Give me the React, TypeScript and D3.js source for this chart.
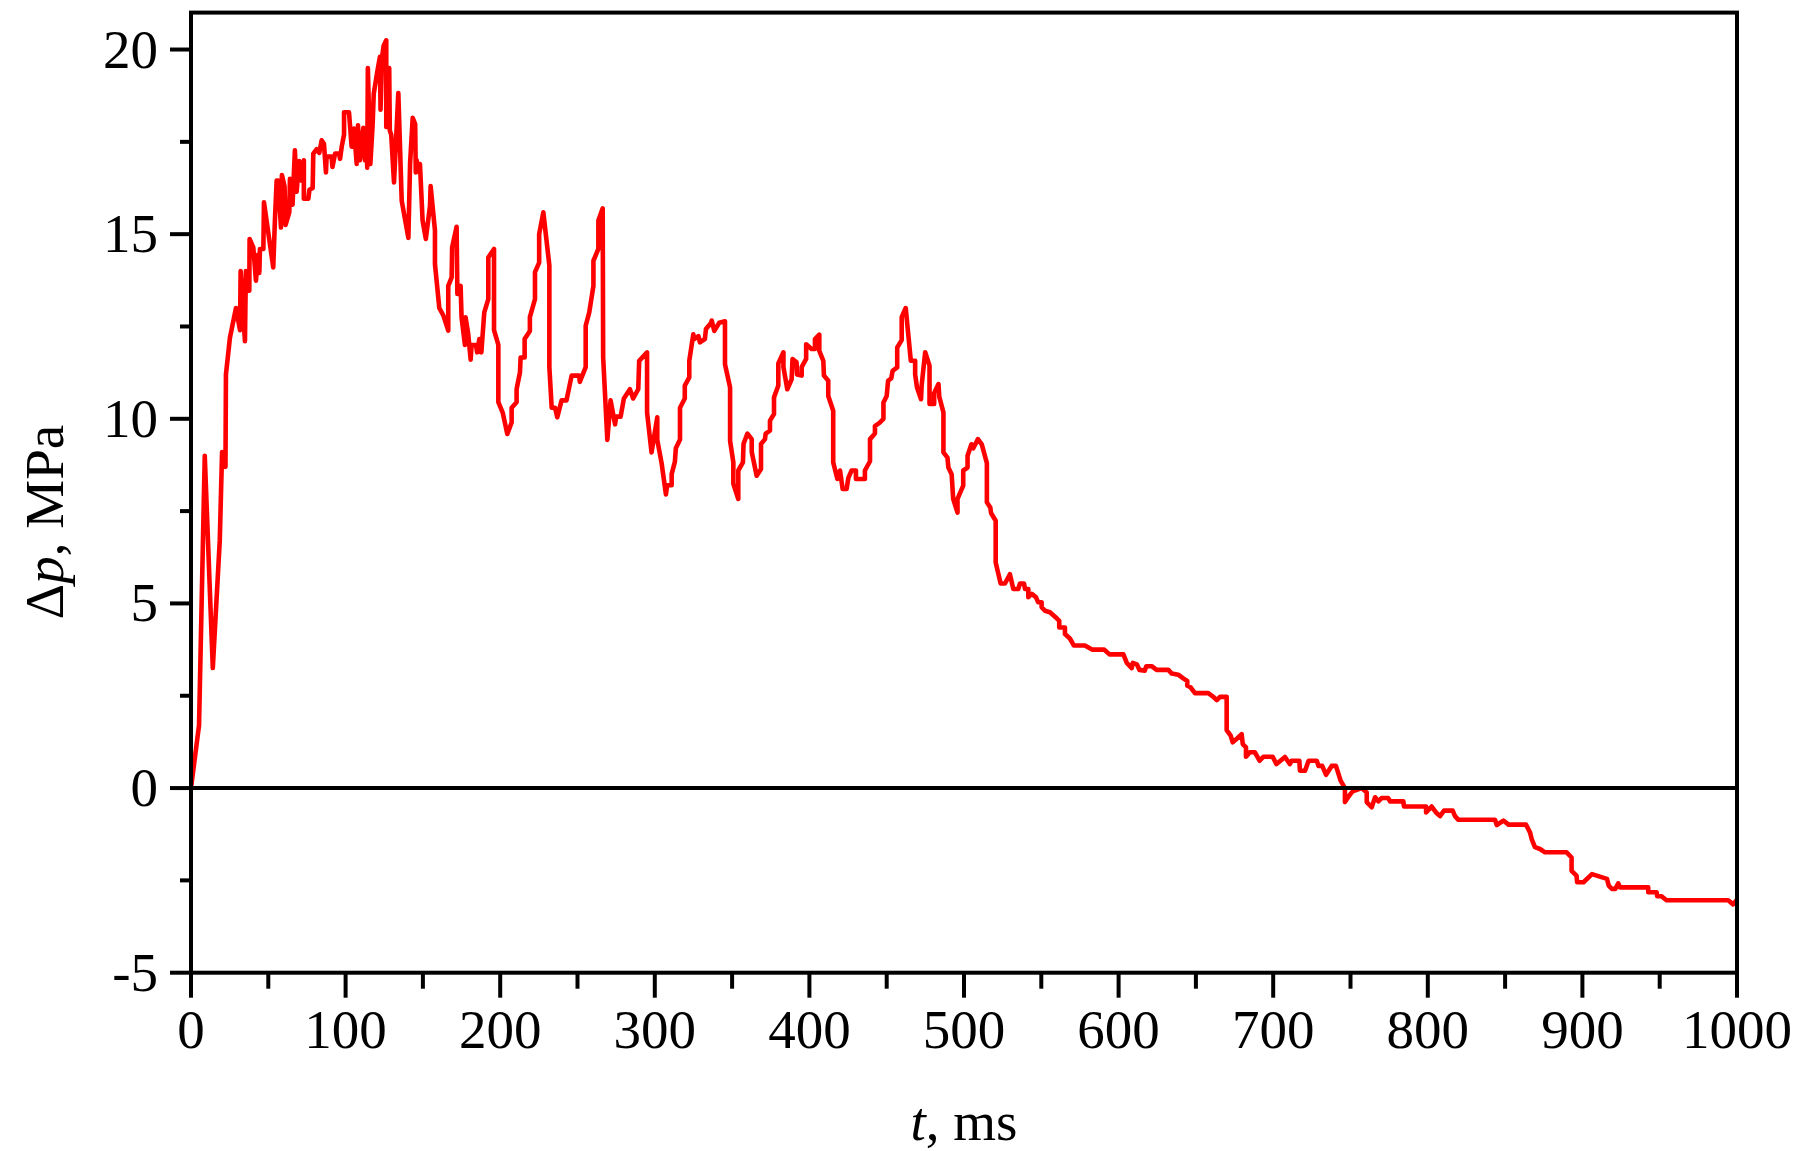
import React from "react";
import * as d3 from "d3";

const timeMs: number[] = [
  0, 5.2, 8.9, 14.1, 18.6, 20.1, 22.3, 22.6, 25.2, 29.1, 31.7, 32.1, 34.9, 35.5, 37.7, 37.9, 40.3, 42.0, 43.5, 44.2,
  44.6, 46.8, 47.2, 53.2, 54.3, 55.4, 56.4, 58.2, 58.8, 60.5, 61.2, 63.6, 64.0, 65.7, 67.2, 68.3, 70.0, 71.5, 73.0, 73.0,
  75.9, 76.6, 78.7, 79.1, 81.3, 83.0, 84.5, 86.0, 87.3, 87.7, 90.9, 91.5, 93.2, 95.8, 96.4, 97.5, 99.0, 99.0, 102.2, 103.9,
  105.4, 107.2, 108.0, 109.3, 111.5, 112.6, 113.2, 114.0, 114.4, 116.0, 117.5, 118.2, 120.5, 122.2, 122.6, 123.6, 124.6, 126.3, 126.3, 127.2,
  128.2, 128.6, 129.5, 131.3, 134.1, 136.3, 140.6, 141.7, 143.4, 145.0, 145.4, 146.0, 147.0, 148.1, 149.8, 151.9, 154.6, 155.0, 157.8, 157.8,
  160.6, 163.2, 166.4, 166.4, 168.6, 168.9, 171.8, 172.3, 174.0, 174.4, 175.0, 177.2, 177.6, 179.3, 180.9, 181.5, 184.3, 185.1, 186.5, 187.8,
  189.7, 192.3, 192.3, 196.0, 196.0, 198.8, 198.8, 201.6, 204.6, 207.4, 207.4, 210.6, 210.6, 212.8, 213.2, 215.8, 215.8, 219.2, 219.2, 222.5,
  222.5, 225.2, 225.2, 227.9, 231.8, 231.8, 233.3, 235.5, 236.9, 239.7, 242.9, 246.2, 251.1, 251.5, 255.3, 255.3, 257.6, 260.3, 260.3, 263.5,
  263.5, 266.3, 266.6, 269.3, 271.4, 274.3, 275.0, 277.9, 280.0, 283.9, 286.0, 289.3, 289.9, 295.0, 295.0, 297.9, 301.6, 301.6, 304.4, 307.2,
  308.0, 310.9, 310.9, 313.0, 313.6, 316.3, 316.3, 319.4, 319.4, 322.3, 322.3, 324.9, 325.5, 328.2, 329.2, 332.4, 333.1, 336.5, 336.8, 338.5,
  341.7, 345.4, 345.4, 348.7, 348.7, 350.8, 350.8, 354.0, 354.0, 357.0, 357.4, 359.9, 362.7, 362.7, 365.9, 368.7, 368.7, 371.3, 371.7, 374.5,
  374.5, 377.1, 377.1, 379.9, 379.9, 383.2, 383.2, 385.7, 388.5, 389.1, 391.7, 392.0, 395.0, 395.0, 397.9, 397.9, 401.4, 403.6, 403.6, 406.4,
  406.4, 409.0, 409.4, 412.2, 412.2, 415.4, 415.4, 418.1, 419.8, 421.5, 424.1, 425.2, 427.3, 430.1, 430.1, 435.9, 435.9, 439.2, 439.2, 442.4,
  442.4, 445.6, 447.9, 447.9, 450.0, 450.9, 453.0, 453.8, 456.8, 456.8, 459.7, 459.7, 462.3, 465.6, 468.4, 468.4, 469.6, 472.2, 472.6, 474.9,
  477.7, 477.7, 480.7, 480.7, 483.5, 484.0, 486.7, 486.7, 489.3, 489.9, 492.0, 493.0, 495.8, 495.8, 499.5, 499.5, 502.3, 502.3, 504.8, 506.0,
  509.0, 511.5, 514.8, 514.8, 517.0, 517.5, 520.5, 520.5, 523.7, 526.5, 529.7, 531.9, 535.1, 536.2, 538.8, 539.5, 541.6, 541.6, 543.8, 546.5,
  548.0, 550.2, 550.2, 552.4, 555.6, 559.4, 561.6, 561.6, 565.3, 565.3, 568.5, 571.1, 578.2, 582.8, 590.6, 594.1, 603.1, 605.3, 608.5, 609.2,
  611.8, 613.5, 616.9, 617.9, 621.4, 624.6, 632.2, 634.4, 638.6, 641.8, 644.4, 644.4, 646.5, 649.4, 658.0, 661.3, 663.5, 665.6, 669.9, 669.9,
  672.5, 673.8, 676.8, 679.6, 680.3, 682.4, 682.4, 684.9, 688.1, 691.2, 693.8, 699.6, 702.1, 707.6, 710.8, 711.9, 716.9, 717.3, 720.6, 722.9,
  728.2, 729.3, 731.7, 734.2, 737.8, 740.6, 743.6, 746.4, 746.4, 749.2, 751.4, 757.2, 760.5, 760.5, 763.7, 765.9, 768.0, 770.1, 774.4, 775.6,
  784.2, 784.6, 798.9, 798.9, 802.5, 805.3, 807.9, 810.5, 816.1, 817.6, 819.8, 843.5, 844.6, 848.9, 852.2, 863.5, 866.1, 867.2, 869.3, 872.6,
  875.8, 889.8, 893.0, 893.0, 896.2, 896.6, 900.7, 906.2, 915.9, 917.0, 919.1, 921.3, 923.2, 924.3, 942.6, 942.6, 948.0, 948.4, 951.2, 954.4,
  994.3, 997.5, 999.7,
];

const deltaP: number[] = [
  0, 1.7, 9.0, 3.25, 6.7, 9.1, 8.7, 11.2, 12.2, 13.0, 12.4, 14.0, 12.1, 14.0, 13.47, 14.87, 14.64, 13.74, 14.45, 13.95,
  14.6, 14.6, 15.86, 14.1, 15.4, 16.45, 16.45, 15.18, 16.6, 16.3, 15.25, 15.6, 16.5, 15.8, 17.27, 16.15, 16.98, 16.45, 17.0, 15.96,
  15.96, 16.2, 16.25, 17.18, 17.3, 17.2, 17.54, 17.45, 16.67, 17.1, 17.1, 16.82, 17.18, 17.18, 17.04, 17.37, 17.7, 18.3, 18.3, 17.37,
  17.86, 16.9, 17.95, 17.0, 17.88, 17.0, 17.86, 16.8, 19.5, 16.9, 17.98, 18.8, 19.4, 19.8, 18.37, 19.8, 20.1, 20.25, 17.9, 19.5,
  19.5, 17.8, 17.7, 16.4, 18.82, 15.9, 14.9, 16.9, 18.15, 17.98, 16.67, 17.0, 16.7, 16.9, 15.37, 14.87, 15.77, 16.3, 15.1, 14.19,
  13.0, 12.8, 12.39, 13.6, 13.83, 14.64, 15.2, 13.38, 13.38, 13.6, 12.75, 12.0, 12.75, 12.3, 11.6, 12.0, 12.0, 11.8, 12.16, 11.8,
  12.88, 13.24, 14.37, 14.6, 12.4, 12.0, 10.45, 10.17, 9.59, 9.9, 10.3, 10.45, 10.8, 11.26, 11.66, 11.66, 12.16, 12.38, 12.75, 13.24,
  13.97, 14.23, 15.0, 15.59, 14.15, 11.4, 10.3, 10.3, 10.04, 10.5, 10.5, 11.17, 11.17, 11.0, 11.4, 12.52, 12.88, 13.6, 14.28, 14.6,
  15.37, 15.7, 11.66, 9.43, 10.5, 9.85, 10.06, 10.06, 10.55, 10.8, 10.55, 10.8, 11.57, 11.8, 10.17, 9.09, 10.04, 9.43, 8.8, 7.95,
  8.2, 8.2, 8.5, 8.84, 9.2, 9.44, 10.3, 10.55, 10.9, 11.12, 11.57, 12.29, 12.16, 12.24, 12.07, 12.16, 12.43, 12.6, 12.66, 12.38,
  12.6, 12.64, 11.48, 10.85, 9.4, 8.82, 8.24, 7.83, 8.6, 8.82, 9.32, 9.6, 9.45, 9.1, 8.46, 8.64, 9.32, 9.45, 9.6, 9.68,
  9.95, 10.13, 10.58, 10.9, 11.5, 11.8, 11.4, 10.8, 11.07, 11.62, 11.53, 11.2, 11.17, 11.4, 11.62, 12.02, 11.89, 11.89, 12.16, 12.28,
  11.84, 11.57, 11.17, 11.03, 10.62, 10.22, 8.82, 8.37, 8.6, 8.1, 8.1, 8.4, 8.6, 8.6, 8.37, 8.37, 8.6, 8.85, 9.45, 9.6,
  9.8, 9.9, 10.0, 10.44, 10.62, 11.03, 11.1, 11.3, 11.39, 11.93, 12.13, 12.75, 13.0, 11.57, 11.57, 11.2, 10.85, 10.53, 10.9, 11.8,
  11.44, 10.4, 10.4, 10.7, 10.94, 10.6, 10.17, 9.09, 8.95, 8.68, 8.5, 7.83, 7.46, 7.83, 8.19, 8.6, 8.68, 9.0, 9.31, 9.2,
  9.45, 9.31, 8.8, 7.74, 7.6, 7.45, 7.24, 6.11, 5.54, 5.54, 5.79, 5.39, 5.39, 5.54, 5.54, 5.39, 5.39, 5.17, 5.26, 5.17,
  5.03, 5.03, 4.9, 4.8, 4.76, 4.62, 4.53, 4.35, 4.35, 4.17, 4.05, 3.86, 3.86, 3.75, 3.75, 3.62, 3.62, 3.39, 3.25, 3.39,
  3.35, 3.2, 3.18, 3.3, 3.3, 3.2, 3.2, 3.1, 3.07, 2.97, 2.9, 2.77, 2.73, 2.57, 2.57, 2.47, 2.38, 2.47, 2.47, 1.57,
  1.42, 1.24, 1.35, 1.46, 1.19, 1.1, 0.85, 0.97, 0.97, 0.74, 0.85, 0.85, 0.65, 0.84, 0.65, 0.74, 0.74, 0.47, 0.47, 0.74,
  0.74, 0.6, 0.6, 0.36, 0.6, 0.6, 0.2, 0.0, -0.38, -0.2, -0.09, 0.0, -0.12, -0.38, -0.52, -0.25, -0.36, -0.27, -0.27, -0.36,
  -0.36, -0.5, -0.5, -0.66, -0.5, -0.66, -0.76, -0.61, -0.61, -0.76, -0.86, -0.86, -1.0, -0.88, -0.99, -0.99, -1.2, -1.38, -1.6, -1.65,
  -1.74, -1.74, -1.88, -2.24, -2.37, -2.55, -2.55, -2.33, -2.46, -2.64, -2.73, -2.73, -2.58, -2.69, -2.69, -2.82, -2.82, -2.93, -2.93, -3.04,
  -3.04, -3.15, -3.04,
];

const xMajorTicks = [0, 100, 200, 300, 400, 500, 600, 700, 800, 900, 1000];
const xMinorTicks = [50, 150, 250, 350, 450, 550, 650, 750, 850, 950];
const yMajorTicks = [-5, 0, 5, 10, 15, 20];
const yMinorTicks = [-2.5, 2.5, 7.5, 12.5, 17.5];

const W = 1805;
const H = 1151;
const FONT = "'Liberation Serif', 'Times New Roman', serif";

export default function App() {
  const left = 191;
  const right = 1737;
  const top = 12.6;
  const bottom = 972.7;

  const x = d3.scaleLinear().domain([0, 1000]).range([left, right]);
  const y = d3.scaleLinear().domain([-5, 21]).range([bottom, top]);

  const pts: [number, number][] = timeMs.map((t, i) => [t, deltaP[i]]);
  const line = d3
    .line<[number, number]>()
    .x((d) => x(d[0]))
    .y((d) => y(d[1]));

  const fs = 55;
  const sw = 4;

  return (
    <svg
      width={W}
      height={H}
      style={{ position: "absolute", left: 0, top: 0, background: "#fff" }}
      fontFamily={FONT}
    >
      <rect x={0} y={0} width={W} height={H} fill="#fff" />
      <path
        d={line(pts) || ""}
        fill="none"
        stroke="#ff0000"
        strokeWidth={4.6}
        strokeLinejoin="round"
        strokeLinecap="round"
      />
      <line x1={x(0)} x2={x(1000)} y1={y(0)} y2={y(0)} stroke="#000" strokeWidth={sw} />
      <rect
        x={left}
        y={top}
        width={right - left}
        height={bottom - top}
        fill="none"
        stroke="#000"
        strokeWidth={sw}
      />
      {xMajorTicks.map((t) => (
        <g key={"xm" + t}>
          <line x1={x(t)} x2={x(t)} y1={bottom} y2={bottom + 25} stroke="#000" strokeWidth={sw} />
          <text x={x(t)} y={1048} fontSize={fs} textAnchor="middle" fill="#000">
            {t}
          </text>
        </g>
      ))}
      {xMinorTicks.map((t) => (
        <line key={"xn" + t} x1={x(t)} x2={x(t)} y1={bottom} y2={bottom + 16} stroke="#000" strokeWidth={sw} />
      ))}
      {yMajorTicks.map((v) => (
        <g key={"ym" + v}>
          <line x1={left - 21} x2={left} y1={y(v)} y2={y(v)} stroke="#000" strokeWidth={sw} />
          <text x={158} y={y(v) + 18} fontSize={fs} textAnchor="end" fill="#000">
            {v < 0 ? "-" + Math.abs(v) : String(v)}
          </text>
        </g>
      ))}
      {yMinorTicks.map((v) => (
        <line key={"yn" + v} x1={left - 11} x2={left} y1={y(v)} y2={y(v)} stroke="#000" strokeWidth={sw} />
      ))}
      <text x={(left + right) / 2} y={1140} fontSize={fs} textAnchor="middle" fill="#000">
        <tspan fontStyle="italic">t</tspan>
        <tspan>, ms</tspan>
      </text>
      <text
        transform={`translate(63, 522) rotate(-90)`}
        fontSize={fs}
        textAnchor="middle"
        fill="#000"
      >
        <tspan>Δ</tspan>
        <tspan fontStyle="italic">p</tspan>
        <tspan>, MPa</tspan>
      </text>
    </svg>
  );
}
